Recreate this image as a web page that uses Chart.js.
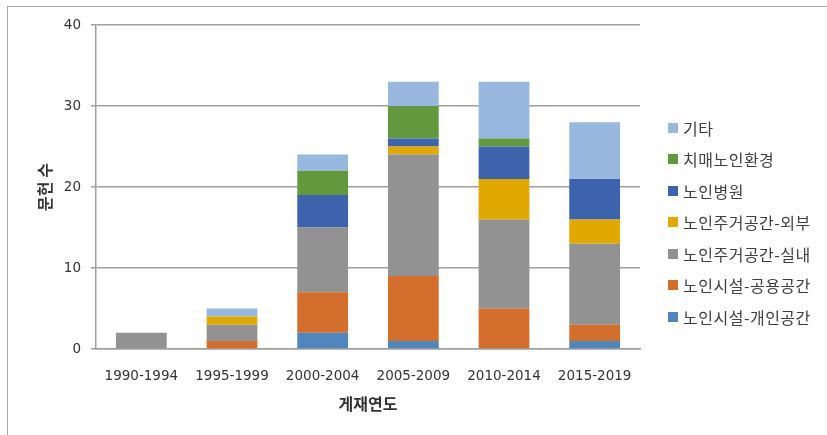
<!DOCTYPE html>
<html>
<head>
<meta charset="utf-8">
<script src="https://cdn.jsdelivr.net/npm/chart.js@4/dist/chart.umd.min.js"></script>
<style>
  body { margin: 0; background: #fff; }
  #wrap { position: relative; width: 827px; height: 435px; overflow: hidden; }
  #frame { position: absolute; left: 7px; top: 6px; width: 840px; height: 450px; border: 1px solid #a8a8a8; box-sizing: border-box; }
  #c { position: absolute; left: 0; top: 0; }
  #legend { position: absolute; left: 668px; top: 112px; font-family: "Noto Sans CJK KR", sans-serif; font-size: 16px; letter-spacing: 0.5px; color: #404040; }
  #legend div { height: 31.5px; display: flex; align-items: center; white-space: nowrap; }
  #legend span.box { display: inline-block; width: 10px; height: 10px; margin-right: 5px; }
</style>
</head>
<body>
<div id="wrap">
  <div id="frame"></div>
  <canvas id="c" width="827" height="435"></canvas>
  <div id="legend"></div>
</div>
<script>
// 게재연도별 문헌 수
const categories = ['1990-1994', '1995-1999', '2000-2004', '2005-2009', '2010-2014', '2015-2019'];
const seriesNames = ['노인시설-개인공간', '노인시설-공용공간', '노인주거공간-실내', '노인주거공간-외부', '노인병원', '치매노인환경', '기타'];
const privateRoom = [0, 0, 2, 1, 0, 1];
const publicRoom  = [0, 1, 5, 8, 5, 2];
const houseIn     = [2, 2, 8, 15, 11, 10];
const houseOut    = [0, 1, 0, 1, 5, 3];
const hospital    = [0, 0, 4, 1, 4, 5];
const dementia    = [0, 0, 3, 4, 1, 0];
const etc         = [0, 1, 2, 3, 7, 7];
const yTicks = [0, 10, 20, 30, 40];

const colors = ['#4F86BD', '#D36E2C', '#929292', '#E0A800', '#3D63AD', '#62993E', '#98B8DF'];
const values = [privateRoom, publicRoom, houseIn, houseOut, hospital, dementia, etc];

const datasets = seriesNames.map(function (name, i) {
    return {
        label: name,
        data: values[i],
        backgroundColor: colors[i],
        borderWidth: 0,
        barPercentage: 0.56,
        categoryPercentage: 1.0
    };
});

// 범례 (역순)
const legend = document.getElementById('legend');
for (let i = seriesNames.length - 1; i >= 0; i--) {
    const row = document.createElement('div');
    row.innerHTML = '<span class="box" style="background:' + colors[i] + '"></span>' + seriesNames[i];
    legend.appendChild(row);
}

new Chart(document.getElementById('c'), {
    type: 'bar',
    data: { labels: categories, datasets: datasets },
    options: {
        responsive: false,
        animation: false,
        layout: { padding: { top: 25, right: 187, left: 0, bottom: 0 } },
        plugins: { legend: { display: false }, tooltip: { enabled: false } },
        scales: {
            x: {
                stacked: true,
                grid: { display: false },
                border: { display: true, color: '#a0a0a0', width: 1.5 },
                ticks: { color: '#333', padding: 11, maxRotation: 0, font: { family: 'DejaVu Sans', size: 13.5 } },
                title: { display: true, text: '게재연도', color: '#333', padding: { top: 0, bottom: 21 },
                         font: { family: 'Noto Sans CJK KR', size: 16, weight: 'bold' } },
                afterFit: function (s) { s.height = 86; }
            },
            y: {
                stacked: true,
                min: 0,
                max: 40,
                afterBuildTicks: function (s) { s.ticks = yTicks.map(function (v) { return { value: v }; }); },
                grid: { color: '#a0a0a0', lineWidth: 1.5, tickLength: 5, drawTicks: true },
                border: { display: true, color: '#a0a0a0', width: 1.5 },
                ticks: { color: '#333', padding: 10, font: { family: 'DejaVu Sans', size: 13.5 } },
                title: { display: true, text: '문헌 수', color: '#333', padding: { top: 35, bottom: 0 },
                         font: { family: 'Noto Sans CJK KR', size: 16, weight: 'bold' } },
                afterFit: function (s) { s.width = 96; }
            }
        }
    }
});
</script>
</body>
</html>
